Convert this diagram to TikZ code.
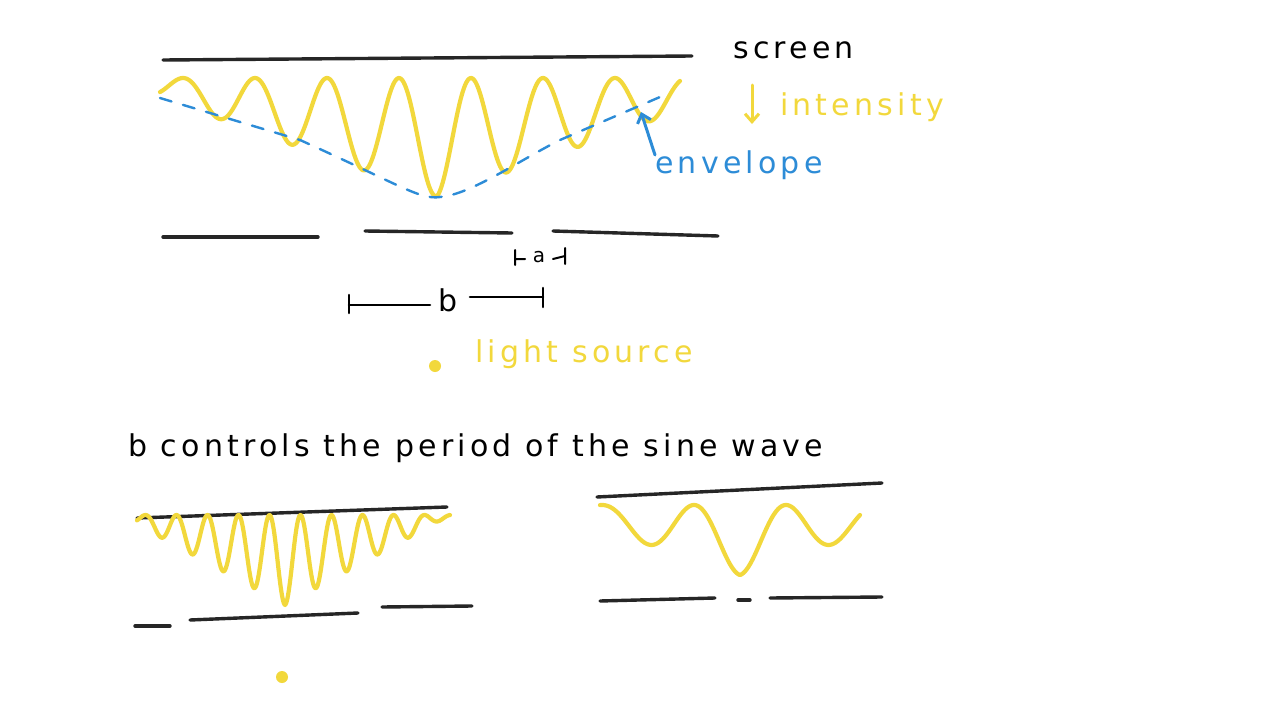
\documentclass[tikz,border=0pt]{standalone}
\usepackage{fontspec}
\setmainfont[LetterSpace=14]{DejaVu Sans}
\usetikzlibrary{arrows.meta}
\begin{document}
\begin{tikzpicture}[x=1pt,y=-1pt,line cap=round,line join=round]
\definecolor{yel}{RGB}{242,216,60}
\definecolor{blu}{RGB}{45,140,215}
\tikzset{blk/.style={line width=3.4pt,black!85},
 yw/.style={line width=4.2pt,yel},
 lbl/.style={font=\fontsize{30}{32}\selectfont,inner sep=0pt}}
\useasboundingbox[fill=white] (0,0) rectangle (1280,720);
% top screen
\draw[blk] (163,60) -- (692,56);
\draw[yw] plot[domain=160:680,samples=400] (\x,{78+((197-abs(\x-438)*0.357)-78)*(1+cos((\x-435)*5))/2});
\draw[blu,line width=2.4pt,dash pattern=on 12pt off 12pt] (160,98) -- (300,140) .. controls (400,185) and (420,200) .. (440,197) .. controls (470,195) and (520,160) .. (560,140) -- (660,97);
% barriers
\draw[blk] (163,237) -- (318,237);
\draw[blk] (365,231) -- (512,233);
\draw[blk] (553,231) -- (718,236);
% a bracket
\draw[black,line width=2pt] (515,250) -- (515,265) (515,259) -- (525,259) (553,259) -- (565,256) (565,248) -- (565,264);
\node[lbl,font=\fontsize{20}{22}\selectfont] (a) at (539,257) {a};
% b bracket
\draw[black,line width=2.6pt] (349,295) -- (349,313) (349,305) -- (430,305) (470,297) -- (543,297) (543,288) -- (543,307);
\node[lbl] (b) at (448,300) {b};
% light source
\fill[yel] (435,366) circle (6);
\node[lbl,text=yel,anchor=west] (ls) at (475,354) {light source};
% labels
\node[lbl,anchor=west] (scr) at (733,50) {screen};
\draw[yel,line width=3pt,-{Straight Barb[length=8pt,width=14pt]}] (752,85) -- (752,124);
\node[lbl,text=yel,anchor=west] (int) at (780,107) {intensity};
\node[lbl,text=blu,anchor=west] (env) at (655,165) {envelope};
\draw[blu,line width=3pt,-{Straight Barb[length=8pt,width=14pt]}] (655,155) -- (641,112);
% sentence
\node[lbl,anchor=west] (sent) at (128,448) {b controls the period of the sine wave};
% bottom left
\draw[blk] (137,518) -- (447,507);
\draw[yw] plot[domain=137:450,samples=500] (\x,{515+((605-abs(\x-285)*0.545)-515)*(1+cos((\x-285)*11.61))/2});
\draw[blk] (135,626) -- (170,626);
\draw[blk] (190,620) -- (358,613);
\draw[blk] (382,607) -- (472,606);
\fill[yel] (282,677) circle (6);
% bottom right
\draw[blk] (597,497) -- (882,483);
\draw[yw] plot[domain=600:860,samples=300] (\x,{505+((575-abs(\x-740)*0.333)-505)*(1+cos((\x-740)*3.913))/2});
\draw[blk] (600,601) -- (715,598);
\draw[blk] (738,600) -- (750,600);
\draw[blk] (770,598) -- (882,597);
\end{tikzpicture}
\end{document}
